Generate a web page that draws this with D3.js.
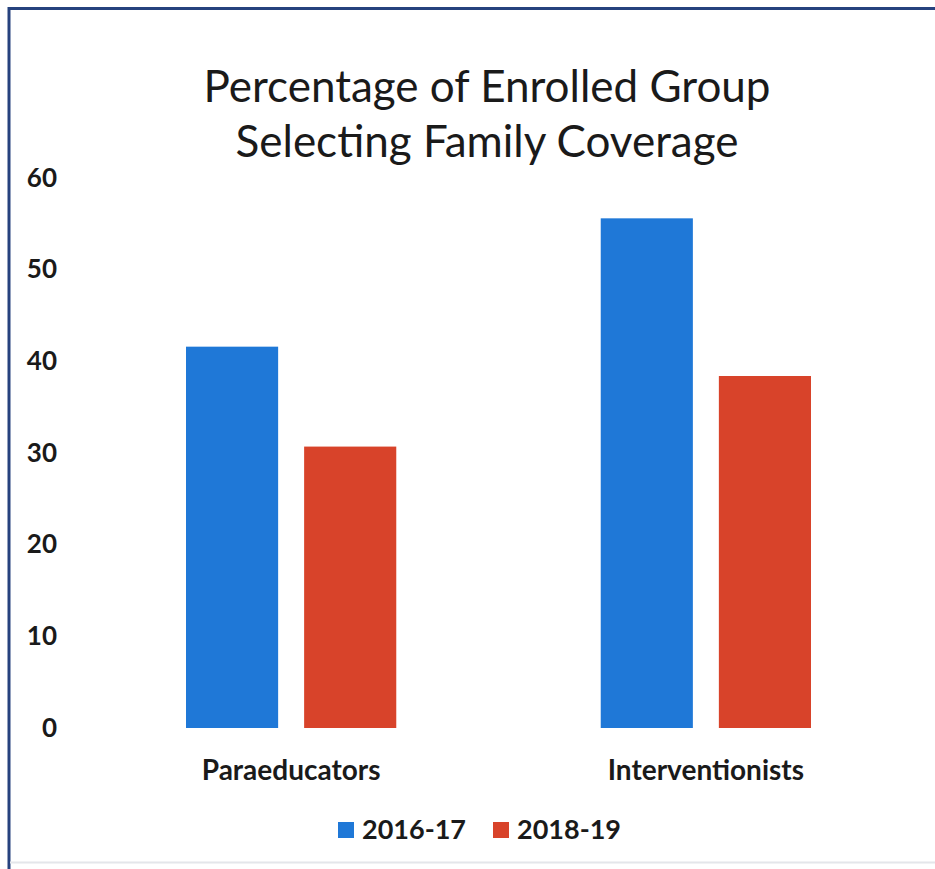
<!DOCTYPE html>
<html>
<head>
<meta charset="utf-8">
<script src="https://cdn.jsdelivr.net/npm/d3@7/dist/d3.min.js"></script>
<style>
  html, body { margin: 0; padding: 0; background: #fff; }
  svg { display: block; }
  text { font-family: Lato, "Open Sans", sans-serif; fill: #1a1a1a; }
</style>
</head>
<body>
<svg id="chart" width="935" height="869"></svg>
<script>
const categories = ["Paraeducators", "Interventionists"];
const seriesNames = ["2016-17", "2018-19"];
const values2016 = [41.6, 55.6];
const values2018 = [30.7, 38.4];
const yTicks = [0, 10, 20, 30, 40, 50, 60];
const titleLines = ["Percentage of Enrolled Group", "Selecting Family Coverage"];
const colors = ["#1f78d7", "#d8432a"];

const svg = d3.select("#chart");
const W = 935, H = 869;

// frame
svg.append("rect").attr("x", 0).attr("y", 0).attr("width", W).attr("height", H).attr("fill", "#fff");
svg.append("line").attr("x1", 8).attr("x2", W).attr("y1", 8.5).attr("y2", 8.5)
  .attr("stroke", "#26427e").attr("stroke-width", 3);
svg.append("line").attr("x1", 9).attr("x2", 9).attr("y1", 7).attr("y2", H)
  .attr("stroke", "#26427e").attr("stroke-width", 3);
svg.append("line").attr("x1", 10).attr("x2", W).attr("y1", 862.5).attr("y2", 862.5)
  .attr("stroke", "#e4e6ea").attr("stroke-width", 2);

const plot = { top: 178, bottom: 728, left: 186, right: 811 };

const y = d3.scaleLinear().domain([0, 60]).range([plot.bottom, plot.top]);
const x0 = d3.scaleBand().domain(categories).range([plot.left, plot.right]).paddingInner(0.493).paddingOuter(0);
const x1 = d3.scaleBand().domain(seriesNames).range([0, x0.bandwidth()]).paddingInner(0.22);

// y axis labels
const yAxis = svg.append("g").attr("transform", `translate(57,0)`)
  .call(d3.axisLeft(y).tickValues(yTicks).tickSize(0).tickPadding(0));
yAxis.select(".domain").remove();
yAxis.selectAll("text").attr("font-size", 26).attr("font-weight", 700)
  .attr("font-family", "Lato, sans-serif").attr("fill", "#1a1a1a");

// bars
const rows = categories.map((c, i) => ({ cat: c, vals: [values2016[i], values2018[i]] }));
const groups = svg.selectAll("g.grp").data(rows).enter().append("g")
  .attr("class", "grp").attr("transform", d => `translate(${x0(d.cat)},0)`);
groups.selectAll("rect").data(d => d.vals.map((v, j) => ({ s: seriesNames[j], v, j })))
  .enter().append("rect")
  .attr("x", d => x1(d.s)).attr("width", x1.bandwidth())
  .attr("y", d => y(d.v)).attr("height", d => y(0) - y(d.v))
  .attr("fill", d => colors[d.j]);

// x axis labels
const xAxis = svg.append("g").attr("transform", `translate(0,${plot.bottom})`)
  .call(d3.axisBottom(x0).tickSize(0).tickPadding(0));
xAxis.select(".domain").remove();
xAxis.selectAll("text").attr("dy", 52).attr("font-size", 28).attr("font-weight", 700)
  .attr("font-family", "Lato, sans-serif").attr("fill", "#1a1a1a");

// title
svg.append("g").selectAll("text").data(titleLines).enter().append("text")
  .attr("x", 487).attr("y", (d, i) => 102 + i * 55)
  .attr("text-anchor", "middle").attr("font-size", 44).attr("fill", "#1e1e1e").text(d => d);

// legend
const legendX = [338, 493];
const lg = svg.append("g").selectAll("g").data(seriesNames).enter().append("g")
  .attr("transform", (d, i) => `translate(${legendX[i]},822)`);
lg.append("rect").attr("width", 16).attr("height", 16).attr("fill", (d, i) => colors[i]);
lg.append("text").attr("x", 24).attr("y", 17).attr("font-size", 27).attr("font-weight", 700).text(d => d);
</script>
</body>
</html>
